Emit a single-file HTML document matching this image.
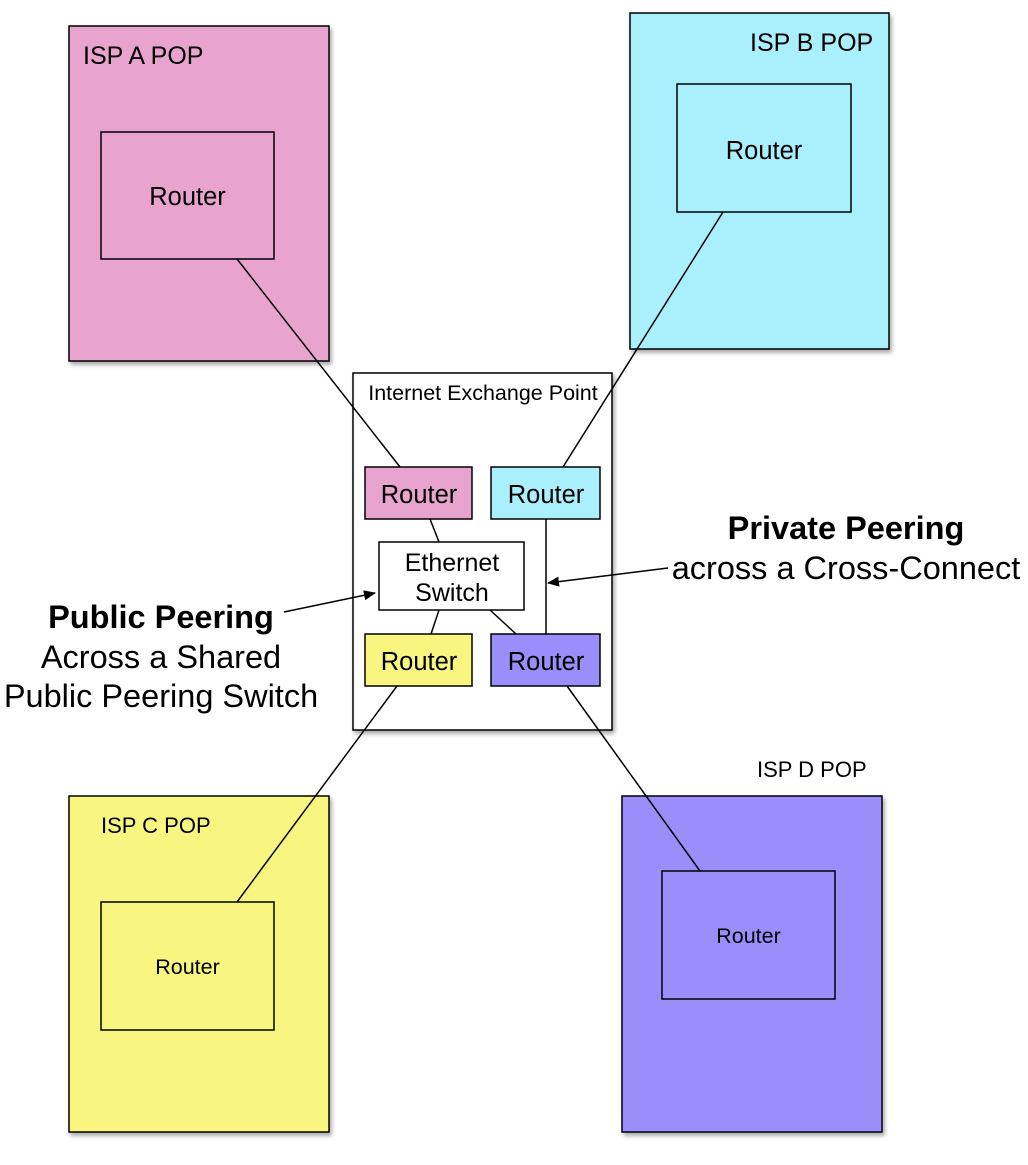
<!DOCTYPE html>
<html><head><style>
body{margin:0;background:#fff;}
</style></head><body>
<svg width="1028" height="1160" xmlns="http://www.w3.org/2000/svg" style="font-family:'Liberation Sans',sans-serif">
<defs>
<filter id="s" x="-5%" y="-5%" width="115%" height="115%"><feDropShadow dx="2" dy="3" stdDeviation="2" flood-color="#000" flood-opacity="0.35"/></filter>
<marker id="a" markerWidth="12" markerHeight="10" refX="11" refY="5" orient="auto" markerUnits="userSpaceOnUse"><path d="M0,0 L12,5 L0,10 z" fill="#000"/></marker>
</defs>
<g stroke="#000" stroke-width="1.5" filter="url(#s)">
<rect x="69" y="26" width="260" height="335" fill="#e8a3cf"/>
<rect x="630" y="13" width="259" height="336" fill="#aaf0fc"/>
<rect x="69" y="796" width="260" height="336" fill="#f8f680"/>
<rect x="622" y="796" width="260" height="336" fill="#9a8ffa"/>
<rect x="353" y="373" width="259" height="357" fill="#fff"/>
</g>
<g stroke="#000" stroke-width="1.5">
<rect x="101" y="132" width="173" height="127" fill="#e8a3cf"/>
<rect x="677" y="84" width="174" height="128" fill="#aaf0fc"/>
<rect x="101" y="902" width="173" height="128" fill="#f8f680"/>
<rect x="662" y="871" width="173" height="128" fill="#9a8ffa"/>
<rect x="365" y="467" width="107" height="52" fill="#e8a3cf"/>
<rect x="491" y="467" width="109" height="52" fill="#aaf0fc"/>
<rect x="379" y="542" width="145" height="68" fill="#fff"/>
<rect x="365" y="634" width="107" height="52" fill="#f8f680"/>
<rect x="491" y="634" width="109" height="52" fill="#9a8ffa"/>
<line x1="237" y1="259" x2="400" y2="467"/>
<line x1="723" y1="212" x2="563" y2="467"/>
<line x1="237" y1="902" x2="397" y2="686"/>
<line x1="700" y1="871" x2="567" y2="686"/>
<line x1="430" y1="519" x2="439" y2="542"/>
<line x1="439" y1="610" x2="431" y2="634"/>
<line x1="490" y1="610" x2="516" y2="634"/>
<line x1="546" y1="519" x2="546" y2="634"/>
<line x1="668" y1="568" x2="548" y2="583" marker-end="url(#a)"/>
<line x1="284" y1="612" x2="375" y2="593" marker-end="url(#a)"/>
</g>
<g fill="#000">
<text x="83" y="64" font-size="25">ISP A POP</text>
<text x="750" y="51" font-size="25">ISP B POP</text>
<text x="101" y="833" font-size="22">ISP C POP</text>
<text x="757" y="777" font-size="22">ISP D POP</text>
<text x="187.5" y="205" font-size="25.5" text-anchor="middle">Router</text>
<text x="764" y="159" font-size="25.5" text-anchor="middle">Router</text>
<text x="187.5" y="974" font-size="21.5" text-anchor="middle">Router</text>
<text x="748.5" y="943" font-size="21.5" text-anchor="middle">Router</text>
<text x="483" y="400" font-size="21.5" text-anchor="middle">Internet Exchange Point</text>
<text x="419" y="503" font-size="25.5" text-anchor="middle">Router</text>
<text x="546" y="503" font-size="25.5" text-anchor="middle">Router</text>
<text x="419" y="670" font-size="25.5" text-anchor="middle">Router</text>
<text x="546" y="670" font-size="25.5" text-anchor="middle">Router</text>
<text x="452" y="571" font-size="25" text-anchor="middle">Ethernet</text>
<text x="452" y="601" font-size="25" text-anchor="middle">Switch</text>
<text x="846" y="539" font-size="32.5" font-weight="bold" text-anchor="middle">Private Peering</text>
<text x="846" y="579" font-size="32.5" text-anchor="middle">across a Cross-Connect</text>
<text x="161" y="628" font-size="32.5" font-weight="bold" text-anchor="middle">Public Peering</text>
<text x="161" y="668" font-size="32.5" text-anchor="middle">Across a Shared</text>
<text x="161" y="707" font-size="32.5" text-anchor="middle">Public Peering Switch</text>
</g>
</svg>
</body></html>
